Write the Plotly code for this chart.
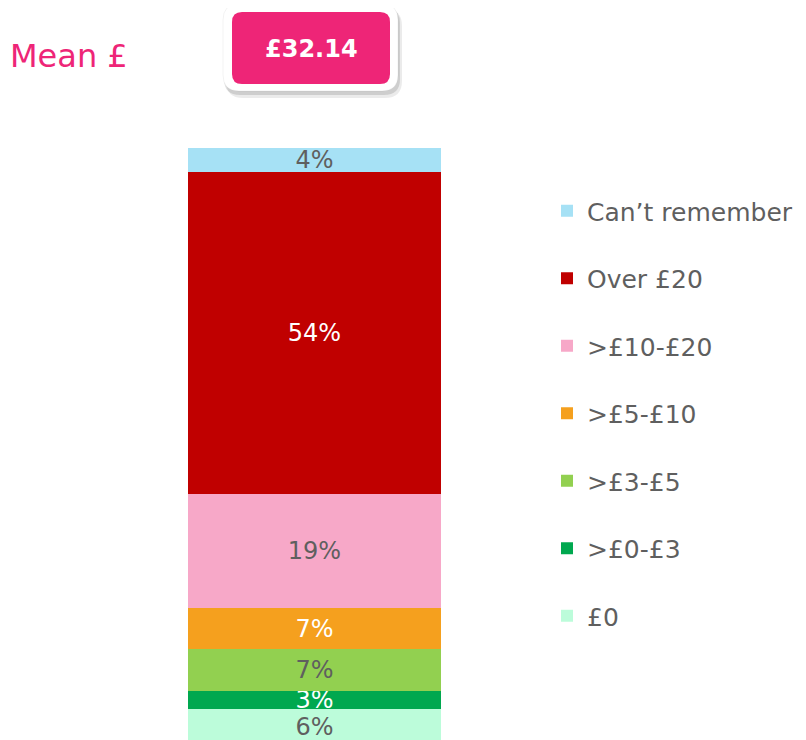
import plotly.graph_objects as go

categories = ["£0", ">£0-£3", ">£3-£5", ">£5-£10", ">£10-£20", "Over £20", "Can’t remember"]
values = [6, 3, 7, 7, 19, 54, 4]
colors = ["#BCFCDA", "#00A84F", "#92D050", "#F5A01E", "#F7A8C8", "#C00000", "#A6E1F5"]
label_colors = ["#5F5F5F", "#FFFFFF", "#5F5F5F", "#FFFFFF", "#5F5F5F", "#FFFFFF", "#5F5F5F"]
mean_label = "Mean £"
mean_value = "£32.14"

W, H = 806, 740
OFF = 8  # page offset of the figure inside the browser window
FONT = "DejaVu Sans"
PINK = "#EE2577"

fig = go.Figure()
n = len(categories)
for i, (cat, v) in enumerate(zip(categories, values)):
    fig.add_trace(go.Bar(
        x=["All"], y=[v], name=cat, marker=dict(color=colors[i], line=dict(width=0)),
        text=[f"{v}%"], textposition="inside", insidetextanchor="middle", textangle=0,
        textfont=dict(color=label_colors[i], size=24, family=FONT),
        legendgroup=cat, legendrank=n - i, hoverinfo="skip", constraintext="none",
    ))


def px(x):
    return (x - OFF) / W


def py(y):
    return 1 - (y - OFF) / H


def rrect(x0, y0, x1, y1, r):
    pts = [
        f"M {px(x0 + r)},{py(y0)}",
        f"L {px(x1 - r)},{py(y0)}",
        f"Q {px(x1)},{py(y0)} {px(x1)},{py(y0 + r)}",
        f"L {px(x1)},{py(y1 - r)}",
        f"Q {px(x1)},{py(y1)} {px(x1 - r)},{py(y1)}",
        f"L {px(x0 + r)},{py(y1)}",
        f"Q {px(x0)},{py(y1)} {px(x0)},{py(y1 - r)}",
        f"L {px(x0)},{py(y0 + r)}",
        f"Q {px(x0)},{py(y0)} {px(x0 + r)},{py(y0)}",
        "Z",
    ]
    return " ".join(pts)


shapes = [
    dict(type="path", xref="paper", yref="paper", path=rrect(226, 9, 402, 98, 17),
         fillcolor="rgba(0,0,0,0.08)", line=dict(width=0), layer="above"),
    dict(type="path", xref="paper", yref="paper", path=rrect(224, 7, 400, 95, 16),
         fillcolor="rgba(0,0,0,0.12)", line=dict(width=0), layer="above"),
    dict(type="path", xref="paper", yref="paper", path=rrect(223, 4, 398, 91, 16),
         fillcolor="#FFFFFF", line=dict(color="rgba(0,0,0,0.05)", width=1), layer="above"),
    dict(type="path", xref="paper", yref="paper", path=rrect(232, 12, 390, 84, 10),
         fillcolor=PINK, line=dict(width=0), layer="above"),
]

annotations = [
    dict(xref="paper", yref="paper", x=px(8), y=py(56), xanchor="left", yanchor="middle",
         text=mean_label, showarrow=False, font=dict(size=32, color=PINK, family=FONT)),
    dict(xref="paper", yref="paper", x=px(311), y=py(49), xanchor="center", yanchor="middle",
         text=f"<b>{mean_value}</b>", showarrow=False, font=dict(size=24, color="#FFFFFF", family=FONT)),
]

fig.update_layout(
    width=W, height=H,
    margin=dict(l=0, r=0, t=0, b=0),
    paper_bgcolor="#FFFFFF", plot_bgcolor="#FFFFFF",
    barmode="stack", bargap=0,
    xaxis=dict(domain=[px(188), px(441)], visible=False, range=[-0.5, 0.5]),
    yaxis=dict(domain=[py(745), py(148)], visible=False, range=[0, 100]),
    uniformtext=dict(minsize=24, mode="show"),
    showlegend=True,
    legend=dict(x=px(547), y=py(188), xanchor="left", yanchor="top",
                traceorder="grouped", tracegroupgap=32,
                font=dict(size=25, color="#5F5F5F", family=FONT),
                bgcolor="rgba(0,0,0,0)"),
    shapes=shapes, annotations=annotations,
)

fig.write_html("out.html")
